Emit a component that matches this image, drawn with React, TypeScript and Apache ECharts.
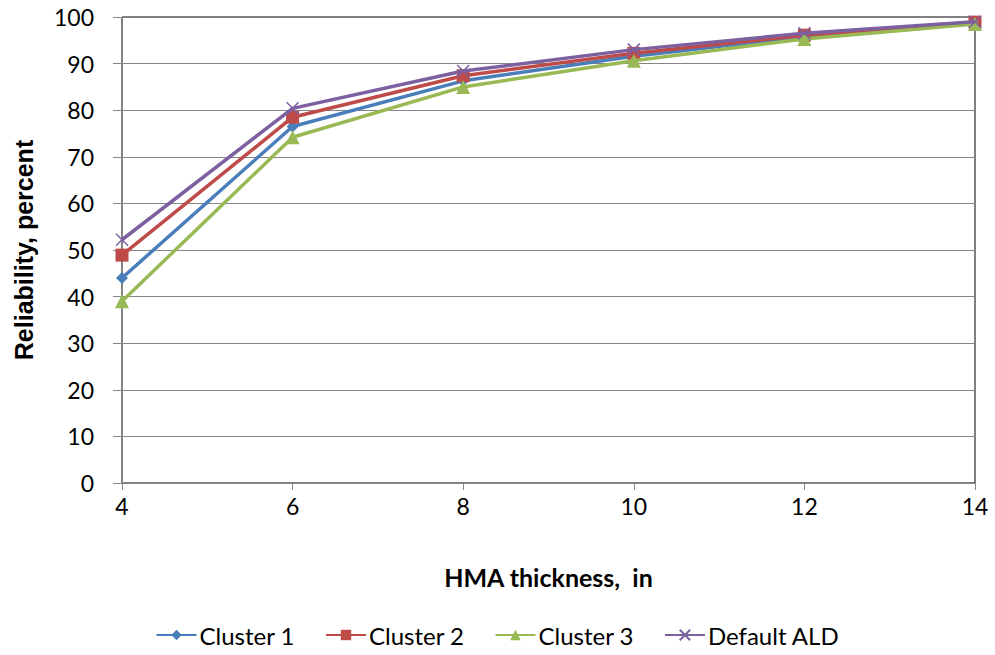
import React, { useEffect, useRef } from "react";
import * as echarts from "echarts";

const thickness = [4, 6, 8, 10, 12, 14];
const cluster1 = [44.0, 76.5, 86.3, 91.6, 95.8, 98.8];
const cluster2 = [48.9, 78.5, 87.4, 92.2, 96.1, 98.9];
const cluster3 = [39.0, 74.2, 85.0, 90.6, 95.3, 98.5];
const defaultALD = [52.2, 80.4, 88.4, 93.0, 96.5, 99.0];

const seriesNames = ["Cluster 1", "Cluster 2", "Cluster 3", "Default ALD"];
const colors = ["#4a7ebb", "#be4b48", "#98b954", "#7d60a0"];
const symbols = ["diamond", "rect", "triangle", "path://M0,0L10,10M10,0L0,10"];
const symbolSizes = [12, 13, 14, 12];
const allData = [cluster1, cluster2, cluster3, defaultALD];

const FONT = "Lato, 'Liberation Sans', sans-serif";

export default function App() {
  const ref = useRef<HTMLDivElement>(null);
  useEffect(() => {
    if (!ref.current) return;
    const chart = echarts.init(ref.current, null, { renderer: "svg" });
    chart.setOption({
      animation: false,
      textStyle: { fontFamily: FONT },
      grid: {
        left: 122,
        right: 20,
        top: 17,
        bottom: 172,
        show: true,
        borderColor: "#000",
        borderWidth: 1,
        outerBoundsMode: "none",
      },
      legend: {
        top: 618,
        left: "center",
        itemWidth: 40,
        itemHeight: 13,
        itemGap: 30,
        textStyle: { fontSize: 24, color: "#000", fontFamily: FONT, padding: [0, 0, 0, -2] },
        data: seriesNames,
      },
      xAxis: {
        type: "value",
        min: 4,
        max: 14,
        interval: 2,
        name: "HMA thickness,  in",
        nameLocation: "middle",
        nameGap: 81,
        nameTextStyle: { fontSize: 25, fontWeight: "bold", color: "#000", fontFamily: FONT },
        axisLine: { lineStyle: { color: "#868686", width: 1 } },
        axisTick: { show: true, length: 7, lineStyle: { color: "#868686" } },
        axisLabel: { fontSize: 23, color: "#000", margin: 11, fontFamily: FONT },
        splitLine: { show: false },
      },
      yAxis: {
        type: "value",
        min: 0,
        max: 100,
        interval: 10,
        name: "Reliability, percent",
        nameLocation: "middle",
        nameGap: 86,
        nameRotate: 90,
        nameTextStyle: {
          fontSize: 25,
          fontWeight: "bold",
          color: "#000",
          fontFamily: "Liberation Sans",
        },
        axisLine: { show: true, lineStyle: { color: "#868686", width: 1 } },
        axisTick: { show: true, length: 9, lineStyle: { color: "#868686" } },
        axisLabel: { fontSize: 23, color: "#000", margin: 28, fontFamily: FONT },
        splitLine: { show: true, showMaxLine: false, lineStyle: { color: "#868686", width: 1 } },
      },
      series: seriesNames.map((name, i) => ({
        name,
        type: "line",
        data: thickness.map((x, j) => [x, allData[i][j]]),
        symbol: symbols[i],
        symbolSize: symbolSizes[i],
        showAllSymbol: true,
        lineStyle: { color: colors[i], width: 3.5 },
        itemStyle:
          i === 3
            ? { color: colors[i], borderColor: colors[i], borderWidth: 1.5 }
            : { color: colors[i] },
        z: 2 + i,
      })),
    });
    return () => chart.dispose();
  }, []);
  return (
    <div
      ref={ref}
      style={{ position: "absolute", left: 0, top: 0, width: 995, height: 655 }}
    />
  );
}
